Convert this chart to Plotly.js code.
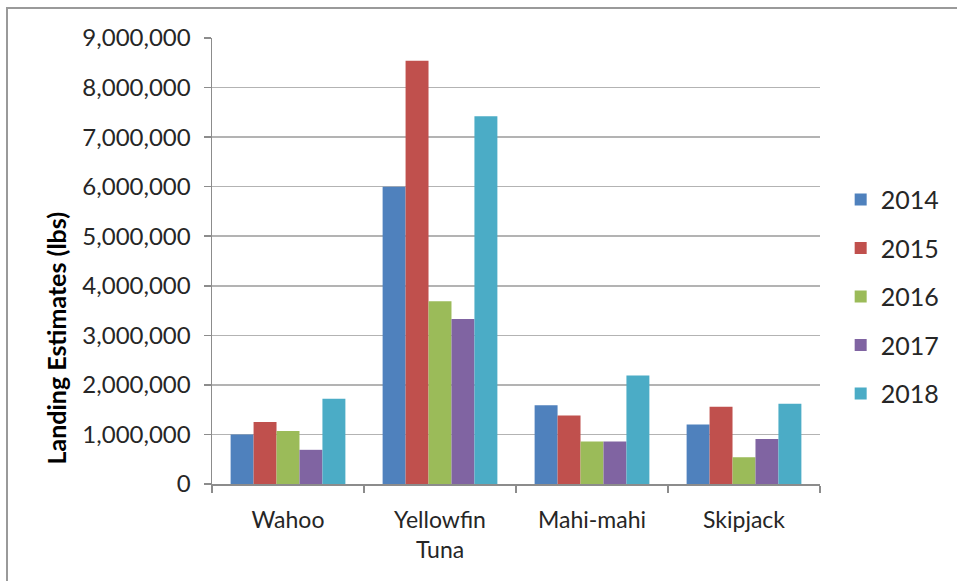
<!DOCTYPE html>
<html>
<head>
<meta charset="utf-8">
<script src="https://cdn.plot.ly/plotly-3.0.1.min.js"></script>
<style>
  html, body { margin: 0; padding: 0; background: #ffffff; }
  #frame { position: absolute; left: 6px; top: 7px; width: 951px; height: 574px;
           border-top: 2px solid #9a9a9a; border-left: 2px solid #9a9a9a; }
  #chart { position: absolute; left: 0; top: 0; width: 957px; height: 581px; }
</style>
</head>
<body>
<div id="frame"></div>
<div id="chart"></div>
<script>
// Categories and series values (lbs)
const categories = ["Wahoo", "Yellowfin<br>Tuna", "Mahi-mahi", "Skipjack"];
const years = ["2014", "2015", "2016", "2017", "2018"];
const v2014 = [1000000, 6000000, 1590000, 1200000];
const v2015 = [1250000, 8540000, 1380000, 1560000];
const v2016 = [1070000, 3690000, 860000, 540000];
const v2017 = [690000, 3330000, 860000, 910000];
const v2018 = [1720000, 7420000, 2190000, 1620000];
const yTickVals = [0, 1000000, 2000000, 3000000, 4000000, 5000000, 6000000, 7000000, 8000000, 9000000];
const yTickText = ["0", "1,000,000", "2,000,000", "3,000,000", "4,000,000", "5,000,000", "6,000,000", "7,000,000", "8,000,000", "9,000,000"];

const seriesValues = [v2014, v2015, v2016, v2017, v2018];
const colors = ["#4F81BD", "#C0504D", "#9BBB59", "#8064A2", "#4BACC6"];

const traces = years.map((yr, i) => ({
  type: "bar",
  name: yr,
  x: categories,
  y: seriesValues[i],
  legendgroup: yr,
  marker: { color: colors[i], line: { width: 0 } },
  hoverinfo: "x+y+name"
}));

const font = "Lato, 'Open Sans', sans-serif";

const layout = {
  width: 957,
  height: 581,
  paper_bgcolor: "rgba(0,0,0,0)",
  plot_bgcolor: "rgba(0,0,0,0)",
  margin: { l: 212, r: 135, t: 38, b: 97, pad: 0 },
  barmode: "group",
  bargap: 0.245,
  bargroupgap: 0,
  font: { family: font, color: "#262626" },
  showlegend: true,
  legend: {
    x: 1.034, xanchor: "left",
    y: 0.42, yanchor: "middle",
    font: { family: font, size: 25, color: "#262626" },
    tracegroupgap: 13,
    bgcolor: "rgba(0,0,0,0)"
  },
  xaxis: {
    type: "category",
    showline: true,
    linecolor: "#8c8c8c",
    linewidth: 1.5,
    ticks: "outside",
    tickson: "boundaries",
    ticklen: 7,
    tickcolor: "#8c8c8c",
    tickwidth: 1.5,
    showgrid: false,
    ticklabelstandoff: 15,
    tickfont: { family: font, size: 23, color: "#262626" },
    fixedrange: true
  },
  yaxis: {
    range: [0, 9000000],
    tickvals: yTickVals,
    ticktext: yTickText,
    showline: true,
    linecolor: "#8c8c8c",
    linewidth: 1.5,
    ticks: "outside",
    ticklen: 7,
    tickcolor: "#8c8c8c",
    tickwidth: 1.5,
    showgrid: true,
    gridcolor: "#b3b3b3",
    gridwidth: 1.5,
    zeroline: false,
    ticklabelstandoff: 8,
    tickfont: { family: font, size: 24, color: "#262626" },
    fixedrange: true
  },
  annotations: [{
    text: "<b>Landing Estimates (lbs)</b>",
    xref: "paper", yref: "paper",
    x: -0.256, y: 0.327,
    xanchor: "center", yanchor: "middle",
    textangle: -90,
    showarrow: false,
    font: { family: font, size: 25, color: "#000000" }
  }]
};

Plotly.newPlot("chart", traces, layout, { displayModeBar: false, staticPlot: true });
</script>
</body>
</html>
